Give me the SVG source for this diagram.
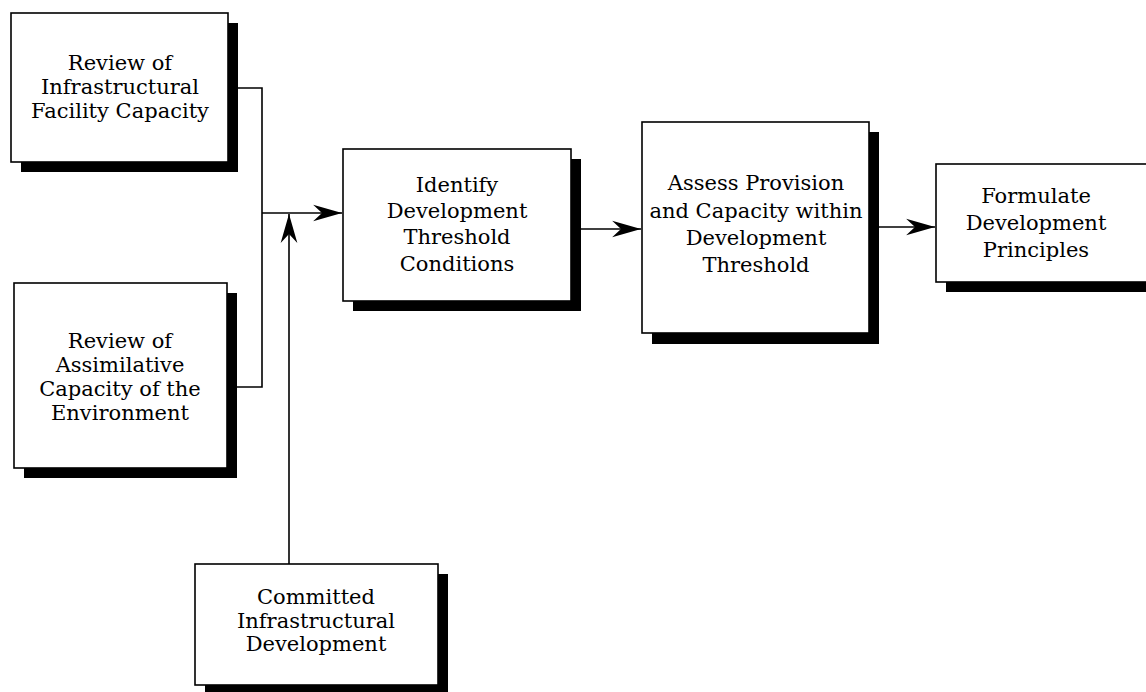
<svg xmlns="http://www.w3.org/2000/svg" width="1146" height="692" viewBox="0 0 1146 692">
<style>
.box{fill:#fff;stroke:#000;stroke-width:1.6}
.sh{fill:#000}
.t{font-family:"DejaVu Serif","Liberation Serif",serif;font-size:21px;fill:#000;text-anchor:middle}
.c{fill:none;stroke:#000;stroke-width:1.6}
</style>
<defs>
<marker id="ah" markerUnits="userSpaceOnUse" markerWidth="30" markerHeight="20" viewBox="-26 -8 27 16" refX="0" refY="0" orient="auto">
<path d="M0,0 L-26,-7.5 L-18,0 L-26,7.5 Z" fill="#000"/>
</marker>
</defs>
<rect width="1146" height="692" fill="#fff"/>
<g id="connectors">
<path class="c" d="M238,88 H262 V387 H237"/>
<path class="c" d="M262,213 H342" marker-end="url(#ah)"/>
<path class="c" d="M289,564 V214" marker-end="url(#ah)"/>
<path class="c" d="M581,229 H641" marker-end="url(#ah)"/>
<path class="c" d="M879,227 H935" marker-end="url(#ah)"/>
</g>
<g id="n1">
<rect class="sh" x="21" y="23" width="217" height="149"/>
<rect class="box" x="11" y="13" width="217" height="149"/>
<text class="t" x="120" y="70">Review of</text>
<text class="t" x="120" y="94">Infrastructural</text>
<text class="t" x="120" y="118">Facility Capacity</text>
</g>
<g id="n2">
<rect class="sh" x="24" y="293" width="213" height="185"/>
<rect class="box" x="14" y="283" width="213" height="185"/>
<text class="t" x="120" y="348">Review of</text>
<text class="t" x="120" y="372">Assimilative</text>
<text class="t" x="120" y="396">Capacity of the</text>
<text class="t" x="120" y="420">Environment</text>
</g>
<g id="n3">
<rect class="sh" x="205" y="574" width="243" height="121"/>
<rect class="box" x="195" y="564" width="243" height="121"/>
<text class="t" x="316" y="604">Committed</text>
<text class="t" x="316" y="628">Infrastructural</text>
<text class="t" x="316" y="651">Development</text>
</g>
<g id="n4">
<rect class="sh" x="353" y="159" width="228" height="152"/>
<rect class="box" x="343" y="149" width="228" height="152"/>
<text class="t" x="457" y="192">Identify</text>
<text class="t" x="457" y="218">Development</text>
<text class="t" x="457" y="244">Threshold</text>
<text class="t" x="457" y="271">Conditions</text>
</g>
<g id="n5">
<rect class="sh" x="652" y="132" width="227" height="212"/>
<rect class="box" x="642" y="122" width="227" height="211"/>
<text class="t" x="756" y="190">Assess Provision</text>
<text class="t" x="756" y="218">and Capacity within</text>
<text class="t" x="756" y="245">Development</text>
<text class="t" x="756" y="272">Threshold</text>
</g>
<g id="n6">
<rect class="sh" x="946" y="174" width="220" height="118"/>
<rect class="box" x="936" y="164" width="220" height="118"/>
<text class="t" x="1036" y="203">Formulate</text>
<text class="t" x="1036" y="230">Development</text>
<text class="t" x="1036" y="257">Principles</text>
</g>
</svg>
